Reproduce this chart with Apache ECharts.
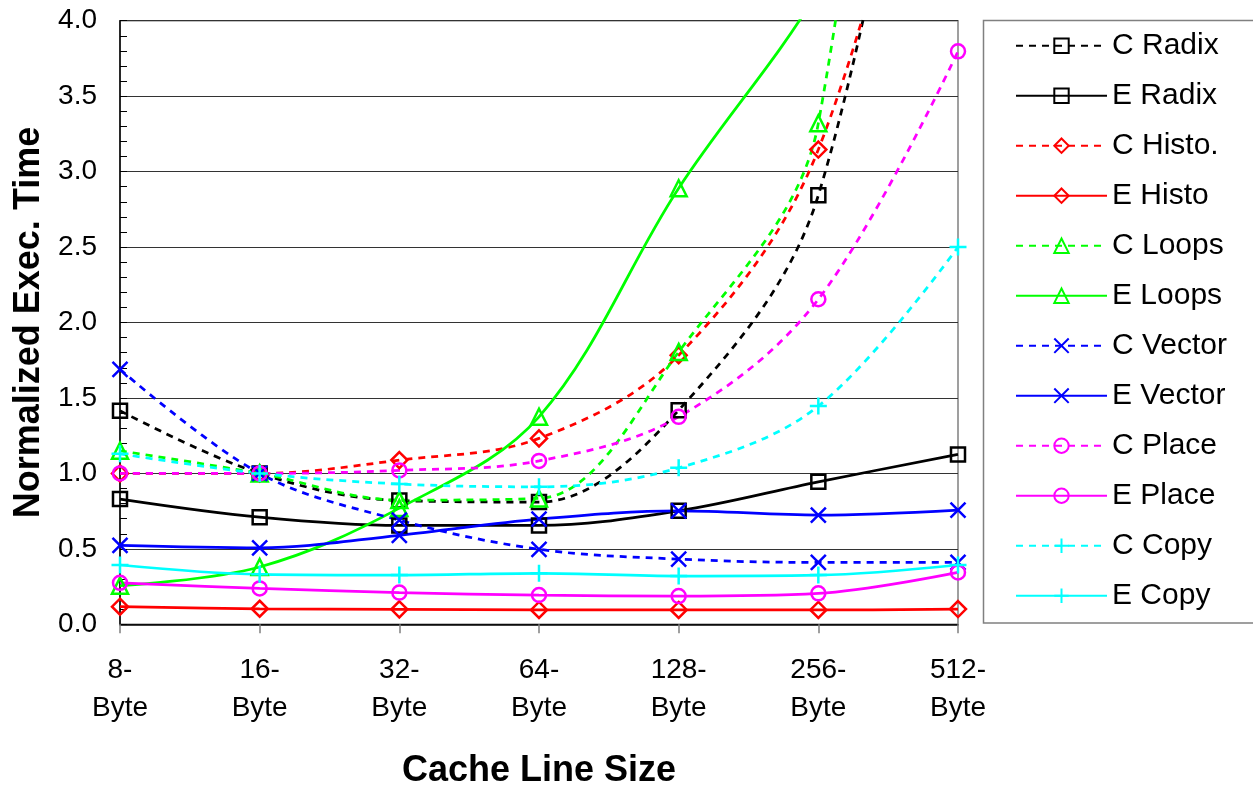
<!DOCTYPE html>
<html><head><meta charset="utf-8">
<script src="https://cdn.jsdelivr.net/npm/echarts@6/dist/echarts.min.js"></script>
<style>html,body{margin:0;padding:0;background:#fff}#c{width:1253px;height:787px}</style>
</head><body><div id="c"></div>
<script>
const categories = ['8-\nByte','16-\nByte','32-\nByte','64-\nByte','128-\nByte','256-\nByte','512-\nByte'];
const yTicks = [0, 0.5, 1.0, 1.5, 2.0, 2.5, 3.0, 3.5, 4.0];

const cRadix  = [1.415, 1.0, 0.82, 0.81, 1.419, 2.843, 7.5];
const eRadix  = [0.83, 0.71, 0.655, 0.655, 0.752, 0.944, 1.126];
const cHisto  = [1.0, 1.0, 1.088, 1.232, 1.783, 3.146, 6.5];
const eHisto  = [0.117, 0.103, 0.099, 0.095, 0.095, 0.095, 0.101];
const cLoops  = [1.15, 1.0, 0.823, 0.834, 1.805, 3.32, 12];
const eLoops  = [0.256, 0.38, 0.77, 1.375, 2.89, 4.2, 6];
const cVector = [1.69, 1.0, 0.69, 0.497, 0.432, 0.41, 0.41];
const eVector = [0.523, 0.507, 0.59, 0.697, 0.752, 0.724, 0.757];
const cPlace  = [1.0, 1.0, 1.02, 1.083, 1.375, 2.154, 3.797];
const ePlace  = [0.275, 0.238, 0.21, 0.194, 0.187, 0.205, 0.344];
const cCopy   = [1.13, 1.0, 0.93, 0.911, 1.037, 1.446, 2.5];
const eCopy   = [0.393, 0.331, 0.326, 0.338, 0.32, 0.326, 0.393];

const FONT = '"Liberation Sans", Arial, sans-serif';
const SYM_X = 'path://M0,0L10,10M10,0L0,10';
const SYM_PLUS = 'path://M5,0L5,10M0,5L10,5';

function mk(name, data, color, dashed, symbol, size) {
  return {
    name: name, type: 'line', data: data,
    smooth: 0.35,
    symbol: symbol, symbolSize: size, showAllSymbol: true,
    lineStyle: { color: color, width: 2.75, type: dashed ? [7, 6] : 'solid' },
    itemStyle: { color: 'rgba(255,255,255,0)', borderColor: color, borderWidth: 2.5 },
    emphasis: { disabled: true },
    clip: true
  };
}

const series = [
  mk('C Radix', cRadix, '#000000', true, 'rect', 14),
  mk('E Radix', eRadix, '#000000', false, 'rect', 14),
  mk('C Histo.', cHisto, '#ff0000', true, 'diamond', 16),
  mk('E Histo', eHisto, '#ff0000', false, 'diamond', 16),
  mk('C Loops', cLoops, '#00ff00', true, 'triangle', 16),
  mk('E Loops', eLoops, '#00ff00', false, 'triangle', 16),
  mk('C Vector', cVector, '#0000ff', true, SYM_X, 15),
  mk('E Vector', eVector, '#0000ff', false, SYM_X, 15),
  mk('C Place', cPlace, '#ff00ff', true, 'circle', 14),
  mk('E Place', ePlace, '#ff00ff', false, 'circle', 14),
  mk('C Copy', cCopy, '#00ffff', true, SYM_PLUS, 17),
  mk('E Copy', eCopy, '#00ffff', false, SYM_PLUS, 17)
];

const chart = echarts.init(document.getElementById('c'), null, { renderer: 'canvas' });
chart.setOption({
  animation: false,
  backgroundColor: '#ffffff',
  grid: { left: 120, right: 295, top: 20.7, bottom: 162.7, show: true, borderColor: '#808080', borderWidth: 1.5,
          containLabel: false, outerBoundsMode: 'none' },
  graphic: [{
    type: 'rect', z: 1,
    shape: { x: 983.5, y: 20.5, width: 300, height: 602.5 },
    style: { fill: '#ffffff', stroke: '#808080', lineWidth: 1.5 }
  }],
  legend: {
    orient: 'vertical', left: 1015, top: 28.7, padding: 0, z: 5,
    itemWidth: 91, itemHeight: 18, itemGap: 16,
    selectedMode: false,
    textStyle: { fontFamily: FONT, fontSize: 30, lineHeight: 34, color: '#000' },
    data: series.map(s => s.name)
  },
  xAxis: {
    type: 'category', data: categories, boundaryGap: false,
    name: 'Cache Line Size', nameLocation: 'middle', nameGap: 129,
    nameTextStyle: { fontFamily: FONT, fontSize: 36, fontWeight: 'bold', color: '#000' },
    axisLine: { lineStyle: { color: '#000', width: 1.5 } },
    axisTick: { show: true, inside: false, length: 9, alignWithLabel: true, lineStyle: { color: '#808080', width: 1.5 } },
    axisLabel: { fontFamily: FONT, fontSize: 28, lineHeight: 38, color: '#000', margin: 27, interval: 0 },
    splitLine: { show: false }
  },
  yAxis: {
    type: 'value', min: 0, max: 4, interval: 0.5,
    name: 'Normalized Exec. Time', nameLocation: 'middle', nameGap: 70,
    nameTextStyle: { fontFamily: FONT, fontSize: 36, fontWeight: 'bold', color: '#000' },
    axisLine: { show: true, lineStyle: { color: '#000', width: 1.5 } },
    axisTick: { show: true, inside: true, length: 7, lineStyle: { color: '#000' } },
    minorTick: { show: true, splitNumber: 5, length: 7, lineStyle: { color: '#000' } },
    axisLabel: { fontFamily: FONT, fontSize: 28, color: '#000', margin: 23,
      formatter: v => (yTicks.indexOf(v) >= 0 ? v.toFixed(1) : '') },
    splitLine: { show: true, lineStyle: { color: '#333', width: 1 } }
  },
  series: series
});
</script></body></html>
